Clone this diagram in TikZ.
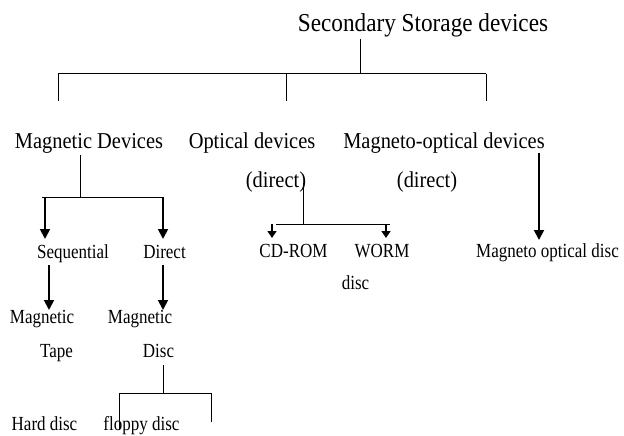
\documentclass[tikz,border=0pt]{standalone}
\usepackage{fontspec}
\setmainfont{Liberation Serif}[FakeStretch=0.9]
\newfontfamily\condfont{Liberation Serif}[FakeStretch=0.85]
\usetikzlibrary{arrows.meta}
\begin{document}
\begin{tikzpicture}[x=1pt,y=-1pt,
  lbl/.style={inner sep=0pt,anchor=base},
  big/.style={lbl,font=\fontsize{25.8}{28}\selectfont},
  mid/.style={lbl,font=\fontsize{22.7}{25}\selectfont},
  sml/.style={lbl,font=\condfont\fontsize{20}{22}\selectfont},
  thin/.style={line width=1pt},
  arr/.style={line width=1.8pt,-{Triangle[length=10pt,width=10pt]}},
  sarr/.style={line width=1.4pt,-{Triangle[length=7pt,width=9pt]}}]
\useasboundingbox (0,0) rectangle (624,436);
% nodes
\node[big] (top) at (423,32) {Secondary Storage devices};
\node[mid] (mag) at (89,148) {Magnetic Devices};
\node[mid] (opt) at (252,148) {Optical devices};
\node[mid] (mo) at (444,148) {Magneto-optical devices};
\node[mid] (d1) at (276,187) {(direct)};
\node[mid] (d2) at (427,187) {(direct)};
\node[sml] (seq) at (73,258) {Sequential};
\node[sml] (dir) at (164.5,258) {Direct};
\node[sml] (cd) at (293.5,257) {CD-ROM};
\node[sml] (worm) at (382,257) {WORM};
\node[sml] (wdisc) at (355.5,289) {disc};
\node[sml] (mod) at (547.5,257) {Magneto optical disc};
\node[sml] (magl) at (42,323) {Magnetic};
\node[sml] (magr) at (140,323) {Magnetic};
\node[sml] (tape) at (56.5,357) {Tape};
\node[sml] (disc) at (158.5,357) {Disc};
\node[sml] (hard) at (44.5,430) {Hard disc};
\node[sml] (flop) at (141.5,430) {floppy disc};
% junction coordinates
\coordinate (t0) at (360,39);
\coordinate (t1) at (360,74);
\coordinate (tL) at (58,74);
\coordinate (tR) at (486,74);
\coordinate (tM) at (286,74);
\coordinate (tLd) at (58,101);
\coordinate (tMd) at (286,101);
\coordinate (tRd) at (486,101);
\draw[thin] (t0) -- (t1);
\draw[thin] (tL) -- (tR);
\draw[thin] (tL) -- (tLd);
\draw[thin] (tM) -- (tMd);
\draw[thin] (tR) -- (tRd);
% magnetic branch
\coordinate (m0) at (80,155);
\coordinate (m1) at (80,197);
\coordinate (mL) at (42,197);
\coordinate (mR) at (163,197);
\coordinate (mLa) at (45,197);
\coordinate (mLt) at (45,239);
\coordinate (mRt) at (163,239);
\draw[thin] (m0) -- (m1);
\draw[thin] (mL) -- (mR);
\draw[arr] (mLa) -- (mLt);
\draw[arr] (mR) -- (mRt);
\coordinate (s0) at (49,265);
\coordinate (s1) at (49,310);
\coordinate (r0) at (163,265);
\coordinate (r1) at (163,310);
\draw[arr] (s0) -- (s1);
\draw[arr] (r0) -- (r1);
% disc branch
\coordinate (k0) at (163,365);
\coordinate (k1) at (163,393);
\coordinate (kL) at (119,393);
\coordinate (kR) at (211,393);
\coordinate (kLd) at (119,430);
\coordinate (kRd) at (211,422);
\draw[thin] (k0) -- (k1);
\draw[thin] (kL) -- (kR);
\draw[thin] (kL) -- (kLd);
\draw[thin] (kR) -- (kRd);
% optical branch
\coordinate (o0) at (303,183);
\coordinate (o1) at (303,224);
\coordinate (oL) at (276,224);
\coordinate (oR) at (390,224);
\coordinate (oLa) at (272,224);
\coordinate (oLt) at (272,238);
\coordinate (oRa) at (386,224);
\coordinate (oRt) at (386,238);
\draw[thin] (o0) -- (o1);
\draw[thin] (oL) -- (oR);
\draw[sarr] (oLa) -- (oLt);
\draw[sarr] (oRa) -- (oRt);
% magneto-optical branch
\coordinate (q0) at (539,153);
\coordinate (q1) at (539,240);
\draw[arr] (q0) -- (q1);
\end{tikzpicture}
\end{document}
